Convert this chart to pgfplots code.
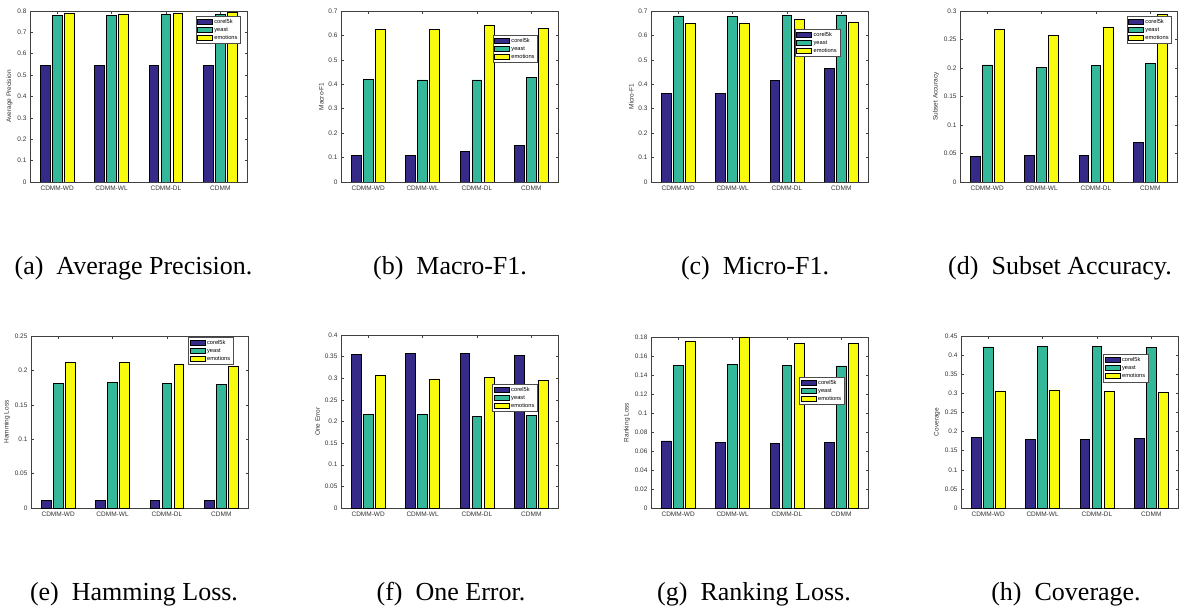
\documentclass[border=0pt]{standalone}
\usepackage{pgfplots}
\pgfplotsset{compat=1.18}
\usepackage{fontspec}
\setmainfont{Liberation Sans}
\newfontfamily\capfont{Liberation Serif}
\definecolor{cA}{RGB}{53,42,135}
\definecolor{cB}{RGB}{53,183,154}
\definecolor{cC}{RGB}{249,251,14}
\pgfplotsset{
  mybar/.style={
    scale only axis, width=217.5pt, height=171pt,
    anchor=south west,
    xmin=0.5, xmax=4.5, ymin=0,
    xtick={1,2,3,4}, xticklabels={CDMM-WD,CDMM-WL,CDMM-DL,CDMM},
    ybar, bar width=0.178,
    tick align=inside, major tick length=3pt,
    tick style={black!75, line width=0.5pt},
    axis line style={black!75, line width=0.6pt},
    ticklabel style={font=\fontsize{6.5}{7}\selectfont, text=black!80},
    label style={font=\fontsize{6.5}{7}\selectfont, text=black!80},
    /pgf/number format/assume math mode=true,
    yticklabel style={/pgf/number format/fixed, /pgf/number format/precision=3},
    scaled y ticks=false,
    ylabel shift=-2pt,
    legend cell align=left,
    legend style={font=\fontsize{5.7}{6}\selectfont, anchor=north west, draw=black!70, fill=white,
      inner sep=1pt, row sep=-1.5pt, line width=0.5pt},
  },
  sA/.style={fill=cA, draw=black, line width=0.7pt, bar shift=-0.222,
    legend image code/.code={\draw[fill=cA, draw=black, line width=0.6pt] (0pt,-2.6pt) rectangle (15pt,2.6pt);}},
  sB/.style={fill=cB, draw=black, line width=0.7pt, bar shift=0,
    legend image code/.code={\draw[fill=cB, draw=black, line width=0.6pt] (0pt,-2.6pt) rectangle (15pt,2.6pt);}},
  sC/.style={fill=cC, draw=black, line width=0.7pt, bar shift=0.222,
    legend image code/.code={\draw[fill=cC, draw=black, line width=0.6pt] (0pt,-2.6pt) rectangle (15pt,2.6pt);}},
}
\begin{document}
\begin{tikzpicture}[x=1pt,y=1pt]
\useasboundingbox (0pt,0pt) rectangle (1182pt,613pt);
% (a) Average Precision
\begin{axis}[mybar, at={(30pt,431pt)}, ymax=0.8, ytick={0,0.1,...,0.8},
  ylabel={Average Precision}, legend style={at={(0.761,0.971)}}]
\addplot[sA] coordinates {(1,0.545) (2,0.545) (3,0.545) (4,0.545)};
\addplot[sB] coordinates {(1,0.781) (2,0.780) (3,0.783) (4,0.783)};
\addplot[sC] coordinates {(1,0.788) (2,0.786) (3,0.788) (4,0.792)};
\legend{corel5k,yeast,emotions}
\end{axis}
% (b) Macro-F1
\begin{axis}[mybar, at={(341pt,431pt)}, ymax=0.7, ytick={0,0.1,...,0.7},
  ylabel={Macro-F1}, legend style={at={(0.697,0.860)}}]
\addplot[sA] coordinates {(1,0.109) (2,0.109) (3,0.125) (4,0.151)};
\addplot[sB] coordinates {(1,0.421) (2,0.418) (3,0.418) (4,0.428)};
\addplot[sC] coordinates {(1,0.624) (2,0.625) (3,0.643) (4,0.628)};
\legend{corel5k,yeast,emotions}
\end{axis}
% (c) Micro-F1
\begin{axis}[mybar, at={(651pt,431pt)}, ymax=0.7, ytick={0,0.1,...,0.7},
  ylabel={Micro-F1}, legend style={at={(0.661,0.895)}}]
\addplot[sA] coordinates {(1,0.362) (2,0.362) (3,0.415) (4,0.464)};
\addplot[sB] coordinates {(1,0.680) (2,0.677) (3,0.681) (4,0.684)};
\addplot[sC] coordinates {(1,0.648) (2,0.648) (3,0.665) (4,0.655)};
\legend{corel5k,yeast,emotions}
\end{axis}
% (d) Subset Accuracy
\begin{axis}[mybar, at={(960pt,431pt)}, ymax=0.3, ytick={0,0.05,0.1,0.15,0.2,0.25,0.3},
  ylabel={Subset Accuracy}, legend style={at={(0.766,0.971)}}]
\addplot[sA] coordinates {(1,0.045) (2,0.0467) (3,0.0473) (4,0.0689)};
\addplot[sB] coordinates {(1,0.2054) (2,0.201) (3,0.205) (4,0.208)};
\addplot[sC] coordinates {(1,0.268) (2,0.257) (3,0.272) (4,0.2936)};
\legend{corel5k,yeast,emotions}
\end{axis}
% (e) Hamming Loss
\begin{axis}[mybar, at={(31pt,105pt)}, height=172pt, ymax=0.25, ytick={0,0.05,0.1,0.15,0.2,0.25},
  ylabel={Hamming Loss}, legend style={at={(0.723,0.994)}}]
\addplot[sA] coordinates {(1,0.0116) (2,0.0116) (3,0.0116) (4,0.0116)};
\addplot[sB] coordinates {(1,0.181) (2,0.182) (3,0.181) (4,0.1795)};
\addplot[sC] coordinates {(1,0.212) (2,0.211) (3,0.209) (4,0.206)};
\legend{corel5k,yeast,emotions}
\end{axis}
% (f) One Error
\begin{axis}[mybar, at={(341pt,105pt)}, height=173pt, ymax=0.4, ytick={0,0.05,0.1,0.15,0.2,0.25,0.3,0.35,0.4},
  ylabel={One Error}, legend style={at={(0.696,0.717)}}]
\addplot[sA] coordinates {(1,0.355) (2,0.3576) (3,0.3568) (4,0.352)};
\addplot[sB] coordinates {(1,0.2173) (2,0.2166) (3,0.212) (4,0.214)};
\addplot[sC] coordinates {(1,0.306) (2,0.2983) (3,0.302) (4,0.295)};
\legend{corel5k,yeast,emotions}
\end{axis}
% (g) Ranking Loss
\begin{axis}[mybar, at={(651pt,105pt)}, ymax=0.18, ytick={0,0.02,0.04,0.06,0.08,0.1,0.12,0.14,0.16,0.18},
  ylabel={Ranking Loss}, legend style={at={(0.682,0.766)}}]
\addplot[sA] coordinates {(1,0.0706) (2,0.0692) (3,0.0678) (4,0.0692)};
\addplot[sB] coordinates {(1,0.150) (2,0.151) (3,0.150) (4,0.1496)};
\addplot[sC] coordinates {(1,0.1758) (2,0.180) (3,0.1734) (4,0.173)};
\legend{corel5k,yeast,emotions}
\end{axis}
% (h) Coverage
\begin{axis}[mybar, at={(961pt,105pt)}, height=172pt, ymax=0.45, ytick={0,0.05,0.1,0.15,0.2,0.25,0.3,0.35,0.4,0.45},
  ylabel={Coverage}, legend style={at={(0.654,0.895)}}]
\addplot[sA] coordinates {(1,0.1845) (2,0.180) (3,0.1784) (4,0.182)};
\addplot[sB] coordinates {(1,0.4213) (2,0.423) (3,0.422) (4,0.4204)};
\addplot[sC] coordinates {(1,0.3064) (2,0.309) (3,0.3046) (4,0.303)};
\legend{corel5k,yeast,emotions}
\end{axis}
% captions
\begin{scope}[every node/.style={anchor=base, font=\capfont\fontsize{26}{30}\selectfont, inner sep=0pt}]
\node at (133.5pt,338pt) {(a)\hspace{0.5em}Average Precision.};
\node at (450pt,338pt) {(b)\hspace{0.5em}Macro-F1.};
\node at (755pt,338pt) {(c)\hspace{0.5em}Micro-F1.};
\node at (1060pt,338pt) {(d)\hspace{0.5em}Subset Accuracy.};
\node at (134pt,13pt) {(e)\hspace{0.5em}Hamming Loss.};
\node at (451pt,13pt) {(f)\hspace{0.5em}One Error.};
\node at (754pt,13pt) {(g)\hspace{0.5em}Ranking Loss.};
\node at (1066pt,13pt) {(h)\hspace{0.5em}Coverage.};
\end{scope}
\end{tikzpicture}
\end{document}
